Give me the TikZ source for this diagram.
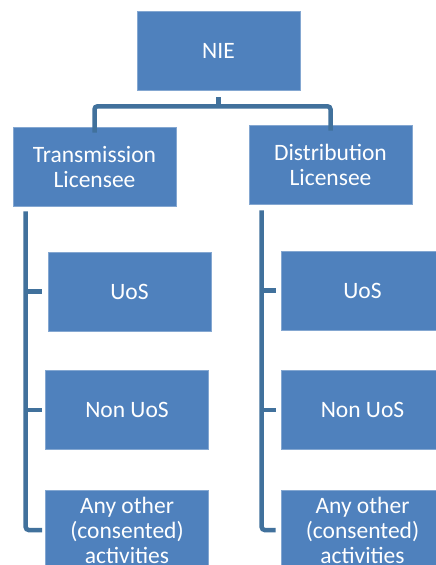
\documentclass[tikz,border=0pt]{standalone}
\usepackage{fontspec}
\setmainfont{Carlito}
\definecolor{boxblue}{HTML}{4F81BD}
\definecolor{linkblue}{HTML}{41719C}
\tikzset{
  box/.style={fill=boxblue, draw=boxblue!70!white, line width=0.6pt, minimum width=163pt, minimum height=79pt,
    inner sep=0pt, text=white, font=\fontsize{23.5}{25}\selectfont, align=center},
  link/.style={draw=linkblue, line width=4.5pt, rounded corners=3pt}
}
\begin{document}
\begin{tikzpicture}[x=1pt,y=-1pt]
\useasboundingbox (0,0) rectangle (436,565);
\clip (0,0) rectangle (436,565);
\fill[white] (0,0) rectangle (436,565);
\node[box] (nie) at (218.5,50.5) {NIE};
\node[box] (tl) at (94.5,166.5) {Transmission\\Licensee};
\node[box] (dl) at (330.5,164.5) {Distribution\\Licensee};
\node[box] (tu) at (129.5,291.5) {UoS};
\node[box] (tn) at (127,410) {Non UoS};
\node[box] (ta) at (127,530) {Any other\\(consented)\\activities};
\node[box] (du) at (362.5,290.5) {UoS};
\node[box] (dn) at (362.5,410) {Non UoS};
\node[box] (da) at (362.5,530) {Any other\\(consented)\\activities};
% top connectors
\draw[link] ([yshift=-7pt]nie.south) -- ([yshift=-16pt]nie.south);
\draw[link] ([yshift=-6pt]tl.north) |- ([yshift=-16pt]nie.south) -| ([yshift=-6pt]dl.north);
% left column
\coordinate (tlb) at ([xshift=13pt,yshift=-5pt]tl.south west);
\draw[link] (tlb) |- ([xshift=-3pt]ta.west);
\draw[link] (tlb |- tu.west) -- ([xshift=-6pt]tu.west);
\draw[link] (tlb |- tn.west) -- ([xshift=-3pt]tn.west);
% right column
\coordinate (dlb) at ([xshift=13pt,yshift=-6pt]dl.south west);
\draw[link] (dlb) |- ([xshift=-5pt]da.west);
\draw[link] (dlb |- du.west) -- ([xshift=-5pt]du.west);
\draw[link] (dlb |- dn.west) -- ([xshift=-5pt]dn.west);
\end{tikzpicture}
\end{document}
